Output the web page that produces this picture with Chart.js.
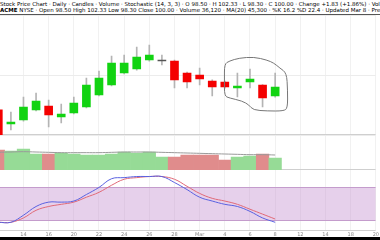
<!DOCTYPE html>
<html>
<head>
<meta charset="utf-8">
<script src="https://cdn.jsdelivr.net/npm/chart.js@4.4.1/dist/chart.umd.min.js"></script>
<style>
html, body { margin:0; padding:0; background:#fff; width:380px; height:240px; overflow:hidden; }
#head { height:15px; box-sizing:border-box; border-bottom:1px solid #555; font-family:"DejaVu Sans", sans-serif; font-size:5.5px; line-height:6px; color:#000; white-space:nowrap; overflow:hidden; padding-top:1px; }
#head b { font-weight:bold; }
#wrap { position:relative; width:380px; height:222px; }
#foot { height:3px; background:#000; }
</style>
</head>
<body>
<div id="head">
  <div>Stock Price Chart · Daily · Candles · Volume · Stochastic (14, 3, 3) · O 98.50 · H 102.33 · L 98.30 · C 100.00 · Change +1.83 (+1.86%) · Vol 36K · Avg Vol 45K · 52W H 107.00 · 52W L 91.00</div>
  <div><b>ACME</b> NYSE · Open 98.50 High 102.33 Low 98.30 Close 100.00 · Volume 36,120 · MA(20) 45,300 · %K 16.2 %D 22.4 · Updated Mar 8 · Prev Close 98.17 · Range 98.30 – 102.33</div>
</div>
<div id="wrap"><canvas id="chart"></canvas></div>
<div id="foot"></div>
<script>
// --- data ---
const opens  = [96.2, 93.83, 94.5, 96.17, 96.83, 95.0, 95.67, 96.67, 98.67, 100.33, 102.33, 103.0, 104.5, 104.33, 104.33, 102.33, 102.0, 101.0, 100.83, 99.83, 100.83, 100.33, 98.5];
const highs  = [97.0, 95.83, 98.33, 99.0, 97.83, 97.17, 98.33, 101.5, 102.67, 105.17, 105.33, 106.67, 107.0, 105.33, 104.5, 102.5, 103.17, 101.2, 101.0, 102.33, 103.0, 100.4, 102.33];
const lows   = [91.0, 92.83, 94.3, 96.0, 93.33, 94.0, 95.5, 96.5, 98.5, 100.2, 102.2, 102.8, 104.3, 103.67, 99.83, 99.83, 100.33, 98.5, 99.8, 98.33, 99.83, 96.67, 98.3];
const closes = [91.8, 94.17, 96.67, 97.67, 95.33, 95.5, 97.33, 100.33, 101.5, 104.0, 104.0, 105.0, 105.33, 104.45, 101.17, 100.83, 101.33, 100.0, 100.0, 100.17, 101.33, 98.17, 100.0];
const volumes  = [60, 57, 63, 48, 48, 51, 48, 45, 45, 48, 54, 51, 54, 39, 39, 45, 45, 45, 30, 39, 42, 48, 36];
const volumeMA = [53, 54, 55, 54, 53, 52, 52, 52, 52, 53, 54, 54, 54, 53, 52, 51, 50, 49, 48, 47, 46, 46, 45];
const stochK = [16, 16, 29, 45, 53, 53, 55, 67, 80, 96, 98, 100, 100, 100, 89, 76, 62, 55, 49, 45, 36, 24, 16];
const stochD = [16, 16, 24, 38, 45, 49, 53, 62, 71, 84, 95, 98, 100, 100, 95, 82, 69, 60, 55, 49, 40, 31, 22];
const stochBand = [20, 80];
const tickIdx    = [2, 4, 6, 8, 10, 12, 14, 16, 18, 20, 22, 24, 26, 28, 30];
const tickLabels = ['14', '16', '20', '22', '24', '26', '28', 'Mar', '4', '6', '8', '12', '14', '18', '20'];
// hand-drawn note around the last candles, [index, price]
const noteOutline = [[17.97, 103.83], [18.36, 104.33], [19.14, 104.83], [20.32, 105.0], [21.34, 104.5], [21.89, 104.0],
  [22.37, 103.17], [22.91, 102.33], [22.99, 99.5], [22.99, 96.5], [22.68, 96.0], [21.34, 96.0], [20.24, 96.17],
  [19.93, 97.0], [19.38, 97.67], [18.36, 98.17], [17.97, 98.5], [17.97, 101.17]];

const UP = '#12d312', DOWN = '#f40000', DOJI = '#555';
const candleColor = opens.map((o, i) => Math.abs(closes[i] - o) < 0.2 ? DOJI : (closes[i] >= o ? UP : DOWN));
const volColor = opens.map((o, i) => closes[i] >= o ? '#96db96' : '#e08c8c');

const panels = {
  id: 'panels',
  beforeDatasetsDraw(chart) {
    const { ctx, chartArea } = chart;
    const s = chart.scales.yStoch;
    const t = s.getPixelForValue(stochBand[1]), b = s.getPixelForValue(stochBand[0]);
    ctx.save();
    ctx.fillStyle = 'rgba(200,150,210,0.45)';
    ctx.fillRect(chartArea.left, t, chartArea.width, b - t);
    ctx.strokeStyle = '#c49ccc';
    ctx.lineWidth = 1;
    [t, b].forEach(y => { ctx.beginPath(); ctx.moveTo(chartArea.left, Math.round(y) + 0.5); ctx.lineTo(chartArea.right, Math.round(y) + 0.5); ctx.stroke(); });
    ctx.strokeStyle = '#cfcfcf';
    ['y', 'yVol', 'yStoch'].forEach(id => {
      const y = Math.round(chart.scales[id].bottom) - 0.5;
      ctx.beginPath(); ctx.moveTo(chartArea.left, y); ctx.lineTo(chartArea.right, y); ctx.stroke();
    });
    ctx.restore();
  },
  afterDatasetsDraw(chart) {
    const { ctx } = chart;
    const x = chart.scales.x, y = chart.scales.y;
    const pts = noteOutline.map(p => [x.getPixelForValue(p[0]), y.getPixelForValue(p[1])]);
    ctx.save();
    ctx.strokeStyle = '#777';
    ctx.lineWidth = 1;
    ctx.beginPath();
    const n = pts.length;
    const mid = (a, b) => [(a[0] + b[0]) / 2, (a[1] + b[1]) / 2];
    let m = mid(pts[n - 1], pts[0]);
    ctx.moveTo(m[0], m[1]);
    for (let i = 0; i < n; i++) {
      const m2 = mid(pts[i], pts[(i + 1) % n]);
      ctx.quadraticCurveTo(pts[i][0], pts[i][1], m2[0], m2[1]);
    }
    ctx.closePath();
    ctx.stroke();
    ctx.restore();
  }
};

const hiddenY = (extra) => Object.assign({
  position: 'left',
  stack: 'panes',
  ticks: { display: false },
  border: { display: false },
  grid: { display: false },
  afterFit(s) { s.width = 0; }
}, extra);

new Chart(document.getElementById('chart'), {
  data: {
    datasets: [
      {
        type: 'bar', label: 'Volume', yAxisID: 'yVol', grouped: false, order: 5,
        data: volumes.map((v, i) => ({ x: i, y: v })),
        backgroundColor: volColor, barPercentage: 1, categoryPercentage: 1
      },
      {
        type: 'line', label: 'Vol MA', yAxisID: 'yVol', order: 4,
        data: volumeMA.map((v, i) => ({ x: i, y: v })),
        borderColor: '#9a9a9a', borderWidth: 1, pointRadius: 0, tension: 0.4
      },
      {
        type: 'bar', label: 'Wick', yAxisID: 'y', grouped: false, order: 3,
        data: highs.map((h, i) => ({ x: i, y: [lows[i], h] })),
        backgroundColor: '#b4b4b4', barThickness: 1
      },
      {
        type: 'bar', label: 'Body', yAxisID: 'y', grouped: false, order: 2,
        data: opens.map((o, i) => ({ x: i, y: [o, closes[i]] })),
        backgroundColor: candleColor, barThickness: 8, minBarLength: 1
      },
      {
        type: 'line', label: '%K', yAxisID: 'yStoch', order: 1,
        data: stochK.map((v, i) => ({ x: i, y: v })),
        borderColor: '#5a62e0', borderWidth: 1, pointRadius: 0, tension: 0.4
      },
      {
        type: 'line', label: '%D', yAxisID: 'yStoch', order: 1,
        data: stochD.map((v, i) => ({ x: i, y: v })),
        borderColor: '#e06a78', borderWidth: 1, pointRadius: 0, tension: 0.4
      }
    ]
  },
  options: {
    responsive: true,
    maintainAspectRatio: false,
    animation: false,
    layout: { padding: 0 },
    plugins: { legend: { display: false }, tooltip: { enabled: false } },
    scales: {
      x: {
        type: 'linear', min: 0.134, max: 29.98, offset: false,
        afterBuildTicks(s) { s.ticks = tickIdx.map(v => ({ value: v })); },
        ticks: {
          autoSkip: false, maxRotation: 0, padding: 1, color: '#888',
          font: { family: 'DejaVu Sans', size: 5 },
          callback: v => tickLabels[tickIdx.indexOf(v)] ?? ''
        },
        grid: { color: '#f1f1f1', drawTicks: false, offset: false },
        border: { display: false },
        afterFit(s) { s.height = 6; }
      },
      // stacked panes are laid out bottom-up in definition order
      yStoch: hiddenY({ min: 0, max: 112, stackWeight: 61 }),
      yVol: hiddenY({ min: 0, max: 105, stackWeight: 35 }),
      y: hiddenY({
        min: 92, max: 112, stackWeight: 120,
        ticks: { display: false, stepSize: 10, includeBounds: false },
        grid: { display: true, color: '#ececec', drawTicks: false }
      })
    }
  },
  plugins: [panels]
});
</script>
</body>
</html>
